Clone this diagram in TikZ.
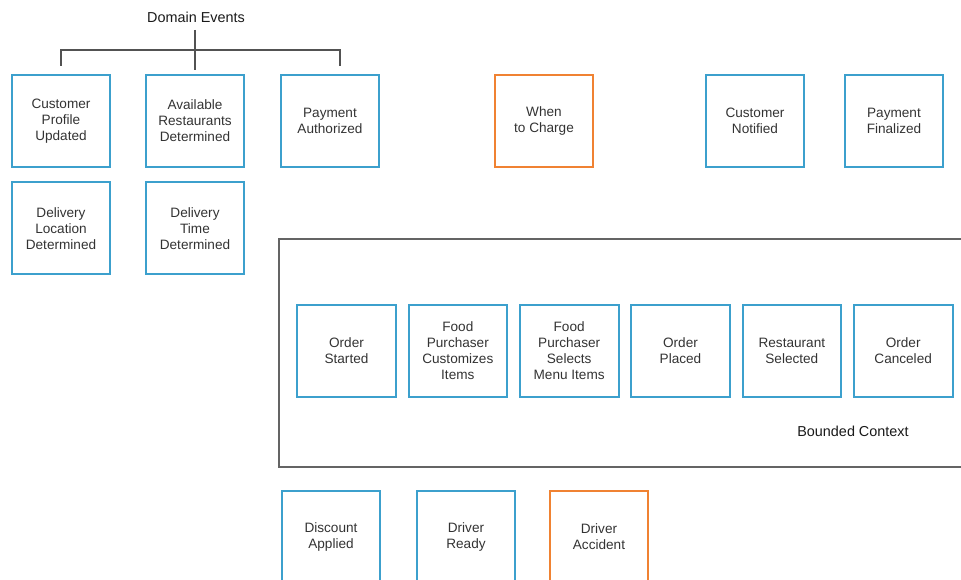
\documentclass[tikz,border=0pt]{standalone}
\usepackage{fontspec}
\setmainfont{Liberation Sans}
\usetikzlibrary{positioning}
\definecolor{evblue}{RGB}{60,160,205}
\definecolor{evorange}{RGB}{240,130,50}
\definecolor{ctxgray}{RGB}{100,100,100}
\definecolor{txtgray}{RGB}{51,51,51}
\tikzset{
  evbox/.style={draw=evblue,line width=1.5pt,align=center,minimum width=74pt,minimum height=69pt,inner sep=2pt,font=\fontsize{10.2}{12}\selectfont,text=txtgray},
  evboxhot/.style={evbox,draw=evorange},
  ctxframe/.style={draw=ctxgray,line width=1.3pt},
  bracket/.style={draw=txtgray!85,line width=1.1pt},
  caption/.style={font=\fontsize{10.8}{13}\selectfont,text=black!90}
}

\begin{document}
\begin{tikzpicture}[x=0.75pt,y=-0.75pt]
      \useasboundingbox (0,0) rectangle (961,580);
      \clip (0,0) rectangle (961,580);
      % domain events, top row
      \node[caption] (domain) at (196,17) {Domain Events};
      \node[evbox] (custprofile) at (61,121) {Customer\\Profile\\Updated};
      \node[evbox] (availrest) at (195,121) {Available\\Restaurants\\Determined};
      \node[evbox] (payauth) at (330,121) {Payment\\Authorized};
      \node[evboxhot] (whencharge) at (544,121) {When\\to Charge};
      \node[evbox] (custnotif) at (755,121) {Customer\\Notified};
      \node[evbox] (payfinal) at (894,121) {Payment\\Finalized};
      \node[evbox,below=10pt of custprofile] (delivloc) {Delivery\\Location\\Determined};
      \node[evbox,below=10pt of availrest] (delivtime) {Delivery\\Time\\Determined};
      % bracket
      \coordinate (brtop) at (195,30);
      \coordinate (brmid) at (195,70);
      \coordinate (brleft) at (61,66);
      \coordinate (brright) at (340,66);
      \draw[bracket] (brtop) -- (brmid);
      \draw[bracket] (brleft) -- ++(0,-16) -| (brright);
      % bounded context
      \draw[ctxframe] (279,239) rectangle (1000,467);
      \node[evbox] (ordstart) at (346.5,351) {Order\\Started};
      \node[evbox,right=8pt of ordstart] (customize) {Food\\Purchaser\\Customizes\\Items};
      \node[evbox,right=8pt of customize] (selects) {Food\\Purchaser\\Selects\\Menu Items};
      \node[evbox,right=8pt of selects] (ordplaced) {Order\\Placed};
      \node[evbox,right=8pt of ordplaced] (restsel) {Restaurant\\Selected};
      \node[evbox,right=8pt of restsel] (ordcancel) {Order\\Canceled};
      \node[caption] (ctxlabel) at (853,431) {Bounded Context};
      % bottom row
      \node[evbox] (discount) at (331,537) {Discount\\Applied};
      \node[evbox] (drvready) at (466,537) {Driver\\Ready};
      \node[evboxhot] (drvaccident) at (599,537) {Driver\\Accident};
    \end{tikzpicture}
\end{document}
